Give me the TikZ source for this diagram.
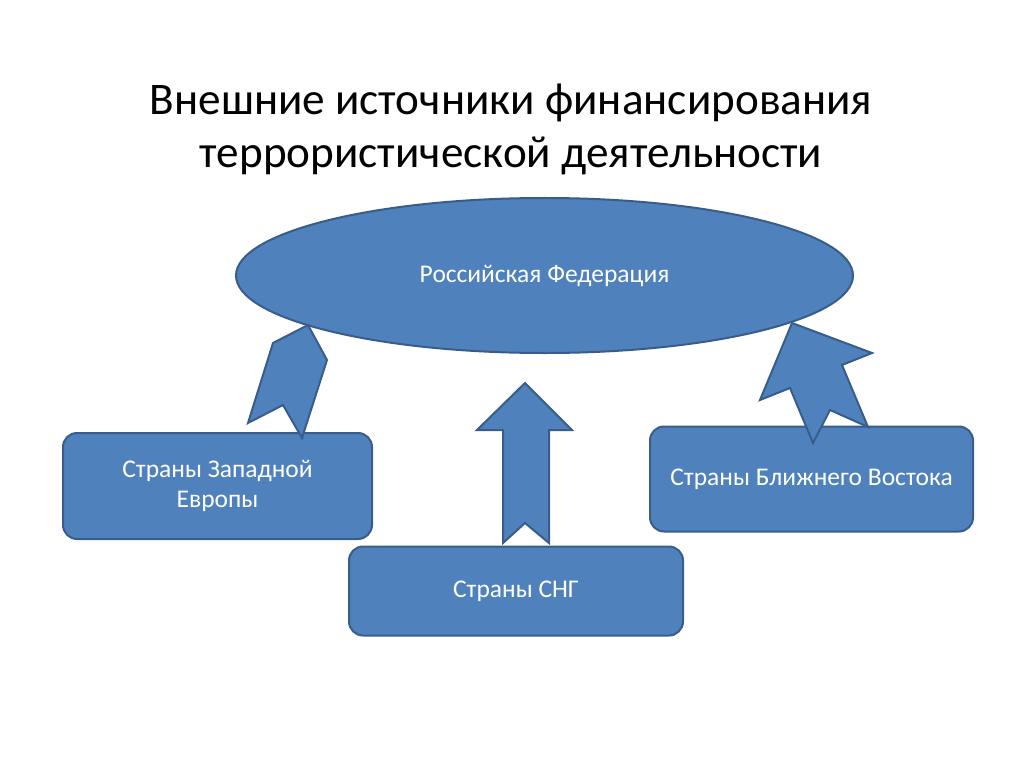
\documentclass[tikz,border=0pt]{standalone}
\usepackage{fontspec}
\setmainfont{Carlito}
\usetikzlibrary{shapes.geometric}

\definecolor{boxfill}{HTML}{4F81BD}
\definecolor{boxline}{HTML}{385D8A}

\tikzstyle{heading}=[align=center,inner sep=0pt,font=\fontsize{45.2}{53}\selectfont]
\tikzstyle{oval}=[draw=boxline,fill=boxfill,ellipse,line width=2pt,minimum width=617pt,minimum height=155pt,inner sep=0pt,text=white,font=\fontsize{25.5}{30}\selectfont]
\tikzstyle{country}=[draw=boxline,fill=boxfill,rounded corners=14pt,line width=2pt,inner sep=0pt,align=center,text=white,font=\fontsize{25.5}{30}\selectfont]
\tikzstyle{flow}=[draw=boxline,fill=boxfill,line width=2pt,line join=miter]

\begin{document}
\begin{tikzpicture}[x=1pt,y=-1pt]
    \useasboundingbox (0,0) rectangle (1024,767);

    \node (title)[heading] at (511,129) {Внешние источники финансирования\\террористической деятельности};

    \node (rf)[oval] at (544.5,275.5) {Российская Федерация};

    \node (west)[country,minimum width=309pt,minimum height=106pt] at (217.5,486) {Страны Западной\\Европы};
    \node (east)[country,minimum width=323pt,minimum height=105pt] at (811.5,479) {Страны Ближнего Востока};
    \node (cis)[country,minimum width=334pt,minimum height=89pt] at (516,591) {Страны СНГ};

    % block arrows
    \draw[flow] (308,325) -- (327,360) -- (302,438) -- (283,405) -- (248,423) -- (273,343) -- cycle;
    \draw[flow] (525,383) -- (572,430) -- (549,430) -- (549,543) -- (525,523) -- (503,543) -- (503,430) -- (477,430) -- cycle;
    \draw[flow] (792,323) -- (872,353) -- (842,365) -- (868,427) -- (830,410) -- (813,443) -- (790,388) -- (760,400) -- cycle;
\end{tikzpicture}
\end{document}
